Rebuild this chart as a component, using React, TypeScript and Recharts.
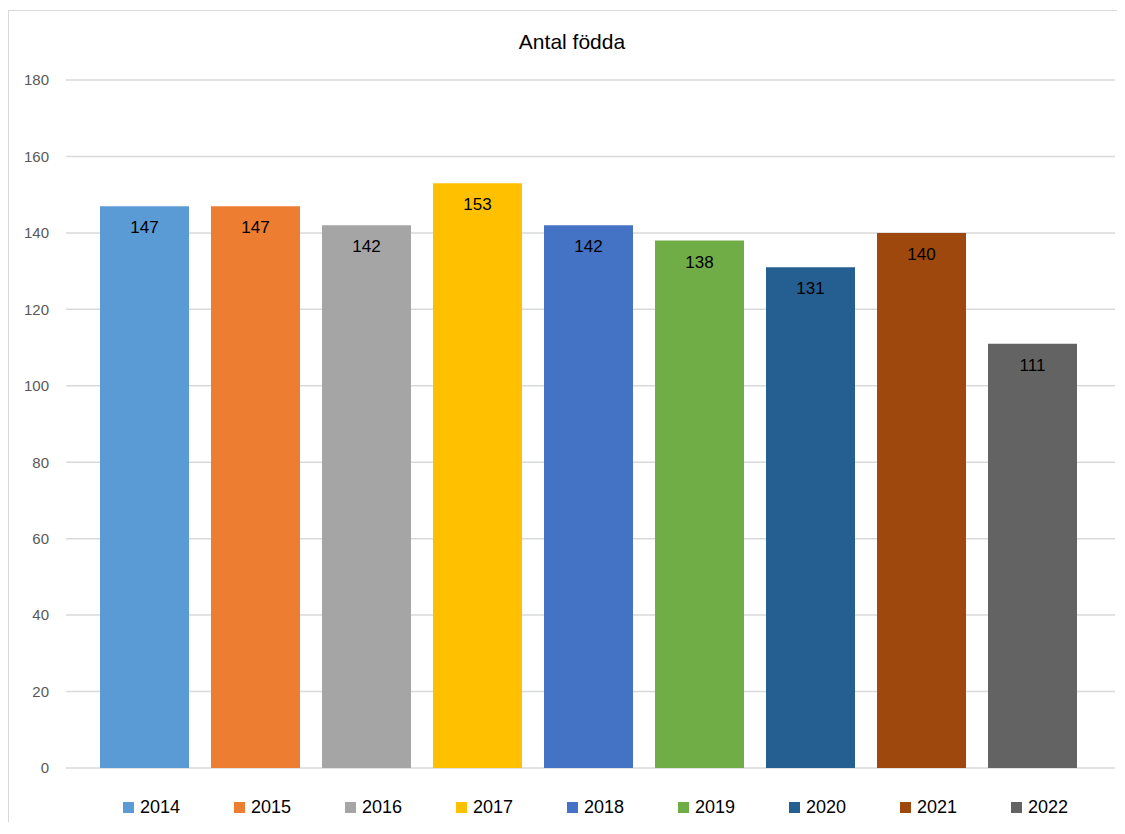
import React from 'react';
import { BarChart, Bar, XAxis, YAxis, CartesianGrid, Legend, LabelList } from 'recharts';

const years = ['2014', '2015', '2016', '2017', '2018', '2019', '2020', '2021', '2022'];
const births = [147, 147, 142, 153, 142, 138, 131, 140, 111];
const colors = ['#5B9BD5', '#ED7D31', '#A5A5A5', '#FFC000', '#4472C4', '#70AD47', '#255E91', '#9E480E', '#636363'];
const yTicks = [0, 20, 40, 60, 80, 100, 120, 140, 160, 180];

const row: Record<string, number | string> = { name: 'Antal födda' };
years.forEach((y, i) => {
  row[y] = births[i];
});
const data = [row];

const FONT = '"Liberation Sans", Arial, sans-serif';

const LegendContent = () => (
  <div style={{ display: 'flex', paddingLeft: 114, fontFamily: FONT }}>
    {years.map((y, i) => (
      <div key={y} style={{ width: 111, display: 'flex', alignItems: 'center' }}>
        <span style={{ display: 'inline-block', width: 11, height: 11, background: colors[i], marginRight: 6 }} />
        <span style={{ fontSize: 18, color: '#000' }}>{y}</span>
      </div>
    ))}
  </div>
);

export default function App() {
  return (
    <div style={{ paddingTop: 2 }}>
      <style>{'html,body{overflow:hidden;}'}</style>
      <div
        style={{
          width: 1117,
          height: 812,
          borderLeft: '1px solid #d9d9d9',
          borderTop: '1px solid #d9d9d9',
          boxSizing: 'border-box',
          position: 'relative',
          overflow: 'hidden',
          background: '#fff',
        }}
      >
        <div
          style={{
            position: 'absolute',
            top: 19,
            left: 0,
            width: 1116,
            textAlign: 'center',
            fontFamily: FONT,
            fontSize: 21,
            color: '#000',
            paddingLeft: 10,
            boxSizing: 'border-box',
          }}
        >
          Antal födda
        </div>
        <BarChart
          width={1116}
          height={811}
          data={data}
          margin={{ top: 69, right: 10, bottom: 33, left: 0 }}
          barCategoryGap={34}
          barGap={22}
        >
          <CartesianGrid vertical={false} stroke="#d9d9d9" strokeWidth={1.5} />
          <XAxis dataKey="name" hide />
          <YAxis
            domain={[0, 180]}
            ticks={yTicks}
            width={57}
            axisLine={false}
            tickLine={false}
            tickSize={0}
            tickMargin={17}
            interval={0}
            tick={{ fill: '#595959', fontSize: 15, fontFamily: FONT }}
          />
          <Legend
            verticalAlign="bottom"
            wrapperStyle={{ left: 0, width: 1116, bottom: 4 }}
            content={<LegendContent />}
          />
          {years.map((y, i) => (
            <Bar key={y} dataKey={y} fill={colors[i]} isAnimationActive={false}>
              <LabelList
                dataKey={y}
                position="insideTop"
                offset={15}
                style={{ fill: '#000', fontSize: 17, fontFamily: FONT }}
              />
            </Bar>
          ))}
        </BarChart>
      </div>
    </div>
  );
}
